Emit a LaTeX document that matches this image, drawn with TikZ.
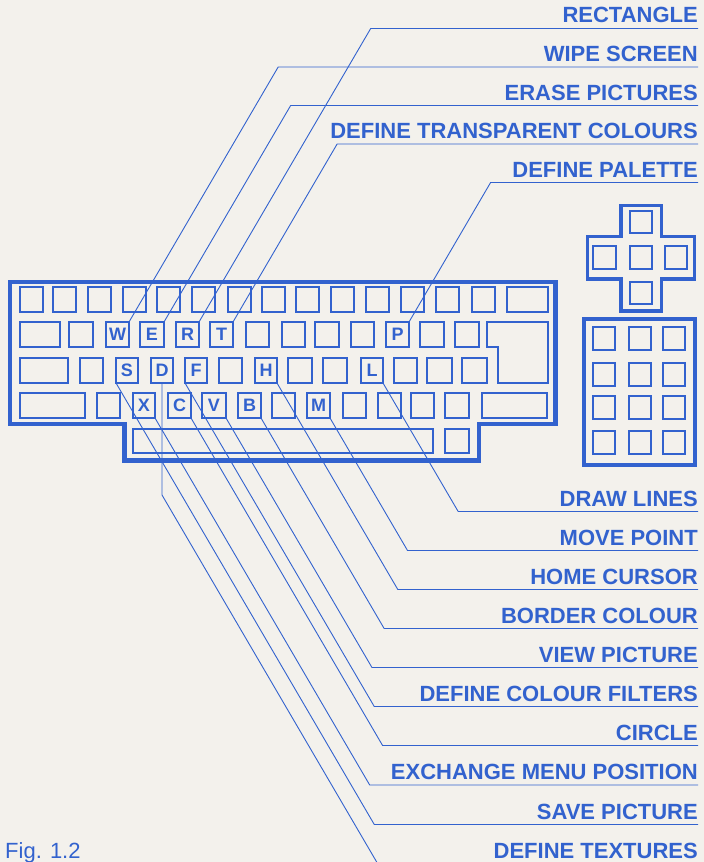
\documentclass[tikz,border=0pt]{standalone}
\usepackage{fontspec}
\setmainfont{Liberation Sans}
\usetikzlibrary{calc}
\definecolor{ink}{RGB}{50,98,206}
\definecolor{paper}{RGB}{243,241,236}
\tikzset{
  kbkey/.style={draw=ink, line width=1.3pt, inner sep=0pt, outer sep=0pt, text=ink,
    font=\bfseries\fontsize{18}{18}\selectfont},
  kbframe/.style={draw=ink, line width=4.5pt, line join=miter},
  padframe/.style={draw=ink, line width=3.4pt, line join=miter},
  conn/.style={draw=ink, line width=0.9pt},
  lab/.style={text=ink, inner sep=0pt, anchor=base east,
    font=\bfseries\fontsize{22}{22}\selectfont},
}
\newcommand\kbk[6]{\node[kbkey, minimum width={(#4)-(#2)}, minimum height={(#5)-(#3)}] (#1) at ({((#2)+(#4))/2},{((#3)+(#5))/2}) {#6};}
\newcommand\leadline[2]{\draw[conn] let \p1=(#1), \p2=(#2.base east) in (\p1) -- ({\x1+0.585*abs(\y2-5.5pt-\y1)},{\y2-5.5pt}) -- (\x2,{\y2-5.5pt});}
\begin{document}
\begin{tikzpicture}[x=1pt,y=-1pt]
\fill[paper] (0,0) rectangle (704,862);
\useasboundingbox (0,0) rectangle (704,862);
% keyboard frame
\draw[kbframe] (10,282) -- (555.5,282) -- (555.5,424) -- (479,424) -- (479,460.5) -- (124.5,460.5) -- (124.5,424) -- (10,424) -- cycle;
% row 1
\foreach \x [count=\i] in {20,53,88,123,157,192,228,262,296,331,366,401,436,472}
  {\kbk{ra\i}{\x}{287}{\x+23}{312}{}}
\kbk{ra15}{507}{287}{548}{312}{}
% row 2
\kbk{rb1}{20}{322}{60}{347}{}
\kbk{rb2}{69}{322}{93}{347}{}
\kbk{kW}{106}{322}{129}{347}{W}
\kbk{kE}{140}{322}{164}{347}{E}
\kbk{kR}{176}{322}{199}{347}{R}
\kbk{kT}{210}{322}{233}{347}{T}
\kbk{rb7}{246}{322}{269}{347}{}
\kbk{rb8}{282}{322}{305}{347}{}
\kbk{rb9}{315}{322}{339}{347}{}
\kbk{rb10}{351}{322}{374}{347}{}
\kbk{kP}{386}{322}{409}{347}{P}
\kbk{rb12}{420}{322}{444}{347}{}
\kbk{rb13}{455}{322}{479}{347}{}
\draw[ink, line width=1.3pt] (487,322) -- (548,322) -- (548,383) -- (498,383) -- (498,347) -- (487,347) -- cycle;
% row 3
\kbk{rc1}{20}{358}{68}{383}{}
\kbk{rc2}{80}{358}{103}{383}{}
\kbk{kS}{116}{358}{138}{383}{S}
\kbk{kD}{151}{358}{173}{383}{D}
\kbk{kF}{185}{358}{207}{383}{F}
\kbk{rc6}{219}{358}{242}{383}{}
\kbk{kH}{255}{358}{277}{383}{H}
\kbk{rc8}{288}{358}{312}{383}{}
\kbk{rc9}{323}{358}{347}{383}{}
\kbk{kL}{361}{358}{383}{383}{L}
\kbk{rc11}{394}{358}{417}{383}{}
\kbk{rc12}{427}{358}{452}{383}{}
\kbk{rc13}{462}{358}{487}{383}{}
% row 4
\kbk{rd1}{20}{393}{85}{418}{}
\kbk{rd2}{97}{393}{120}{418}{}
\kbk{kX}{133}{393}{155}{418}{X}
\kbk{kC}{168}{393}{191}{418}{C}
\kbk{kV}{202}{393}{226}{418}{V}
\kbk{kB}{238}{393}{261}{418}{B}
\kbk{rd7}{272}{393}{295}{418}{}
\kbk{kM}{307}{393}{330}{418}{M}
\kbk{rd9}{343}{393}{366}{418}{}
\kbk{rd10}{378}{393}{401}{418}{}
\kbk{rd11}{411}{393}{434}{418}{}
\kbk{rd12}{445}{393}{469}{418}{}
\kbk{rd13}{482}{393}{547}{418}{}
% row 5
\kbk{space}{133}{429}{433}{453}{}
\kbk{re2}{445}{429}{469}{453}{}
% cursor cross
\draw[padframe] (621,205.5) -- (661.5,205.5) -- (661.5,236.5) -- (694.5,236.5) -- (694.5,279) -- (661.5,279) -- (661.5,311) -- (621,311) -- (621,279) -- (587.5,279) -- (587.5,236.5) -- (621,236.5) -- cycle;
\kbk{cu}{630}{211}{652}{233}{}
\kbk{cl}{593}{246}{616}{269}{}
\kbk{cm}{630}{246}{652}{269}{}
\kbk{cr}{665}{246}{687}{269}{}
\kbk{cd}{630}{282}{652}{304}{}
% numeric pad
\draw[kbframe, line width=4pt] (584,319) rectangle (695,465);
\foreach \y [count=\j] in {327,363,396,431}
  \foreach \x [count=\i] in {593,629,663}
    {\kbk{np\j\i}{\x}{\y}{\x+22}{\y+23}{}}
% labels
\node[lab] (lRect) at (698,23) {RECTANGLE};
\node[lab] (lWipe) at (698,61.5) {WIPE SCREEN};
\node[lab] (lErase) at (698,100) {ERASE PICTURES};
\node[lab] (lTrans) at (698,138.5) {DEFINE TRANSPARENT COLOURS};
\node[lab] (lPal) at (698,177) {DEFINE PALETTE};
\node[lab] (lDraw) at (698,506) {DRAW LINES};
\node[lab] (lMove) at (698,545) {MOVE POINT};
\node[lab] (lHome) at (698,584) {HOME CURSOR};
\node[lab] (lBord) at (698,623) {BORDER COLOUR};
\node[lab] (lView) at (698,662) {VIEW PICTURE};
\node[lab] (lFilt) at (698,701) {DEFINE COLOUR FILTERS};
\node[lab] (lCirc) at (698,740) {CIRCLE};
\node[lab] (lExch) at (698,779.5) {EXCHANGE MENU POSITION};
\node[lab] (lSave) at (698,819) {SAVE PICTURE};
\node[lab] (lTex) at (698,858) {DEFINE TEXTURES};
\node[text=ink, inner sep=0pt, anchor=base west, font=\fontsize{22}{22}\selectfont] (fig) at (5,858) {Fig. 1.2};
% leader lines
\leadline{kR.north east}{lRect}
\leadline{kW.north east}{lWipe}
\leadline{kE.north east}{lErase}
\leadline{kT.north east}{lTrans}
\leadline{kP.north east}{lPal}
\leadline{kL.south east}{lDraw}
\leadline{kM.south east}{lMove}
\leadline{kH.south east}{lHome}
\leadline{kB.south east}{lBord}
\leadline{kV.south east}{lView}
\leadline{kF.south west}{lFilt}
\leadline{kC.south east}{lCirc}
\leadline{kX.south east}{lExch}
\leadline{kS.south west}{lSave}
\draw[conn] let \p1=($(kD.south)+(0,112)$), \p2=(lTex.base east) in (kD.south) -- (\p1) -- ({\x1+0.585*abs(\y2-5.5pt-\y1)},{\y2-5.5pt}) -- (\x2,{\y2-5.5pt});
\end{tikzpicture}
\end{document}
